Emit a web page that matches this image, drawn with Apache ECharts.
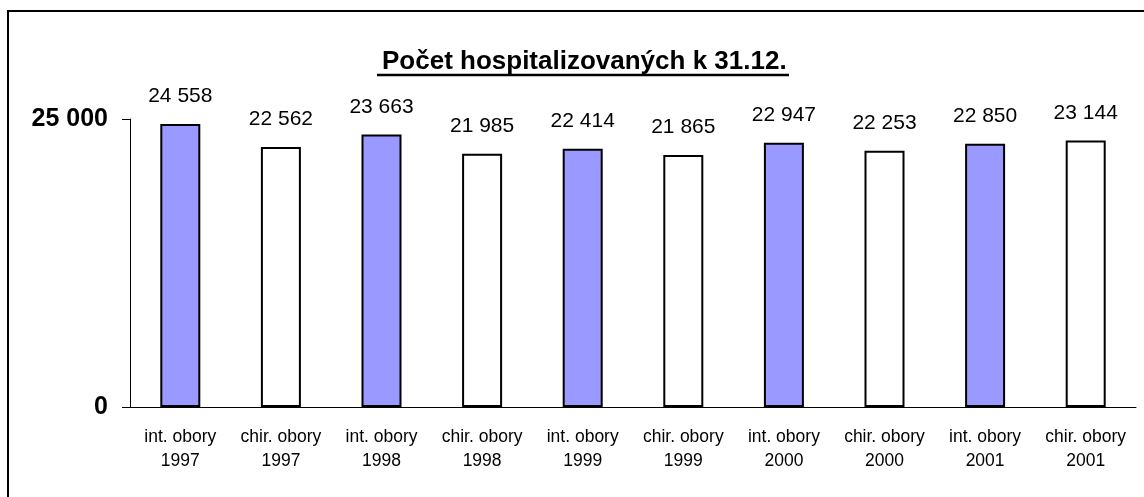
<!DOCTYPE html>
<html lang="cs">
<head>
    <meta charset="UTF-8">
    <title>Počet hospitalizovaných</title>
    <script src="https://cdn.jsdelivr.net/npm/echarts@6/dist/echarts.min.js"></script>
    <style>
        body { margin: 0; background: #fff; }
    </style>
</head>
<body>
    <div id="main" style="width: 1144px;height:497px;"></div>
    <script type="text/javascript">
        const categories = [
            'int. obory\n1997', 'chir. obory\n1997',
            'int. obory\n1998', 'chir. obory\n1998',
            'int. obory\n1999', 'chir. obory\n1999',
            'int. obory\n2000', 'chir. obory\n2000',
            'int. obory\n2001', 'chir. obory\n2001'
        ];
        const patients = [24558, 22562, 23663, 21985, 22414, 21865, 22947, 22253, 22850, 23144];

        const font = '"Liberation Sans", Arial, sans-serif';

        // thousands with a space, as in the source
        function fmt(v) {
            return String(v).replace(/\B(?=(\d{3})+(?!\d))/g, ' ');
        }

        let options = {
            animation: false,
            title: {
                text: 'Počet hospitalizovaných k 31.12.',
                left: 377,
                top: 44,
                textStyle: { fontFamily: font, fontSize: 26, fontWeight: 'bold', color: '#000' }
            },
            graphic: [
                {
                    type: 'rect',
                    shape: { x: 8, y: 11, width: 1140, height: 495 },
                    style: { fill: 'none', stroke: '#000', lineWidth: 2 },
                    silent: true
                },
                {
                    type: 'line',
                    shape: { x1: 377, y1: 75, x2: 789, y2: 75 },
                    style: { stroke: '#000', lineWidth: 2.5 },
                    silent: true
                }
            ],
            grid: { left: 130, right: 8, top: 119, bottom: 90 },
            xAxis: {
                type: 'category',
                data: categories,
                axisLine: { lineStyle: { color: '#000', width: 1 } },
                axisTick: { length: 6, lineStyle: { color: '#000' } },
                axisLabel: {
                    interval: 0,
                    margin: 18,
                    fontFamily: font,
                    fontSize: 17.5,
                    lineHeight: 24,
                    color: '#000'
                }
            },
            yAxis: {
                type: 'value',
                min: 0,
                max: 25000,
                interval: 25000,
                splitLine: { show: false },
                axisLine: { show: true, lineStyle: { color: '#000', width: 1 } },
                axisTick: { show: true, length: 8, lineStyle: { color: '#000' } },
                axisLabel: {
                    margin: 22,
                    fontFamily: font,
                    fontSize: 25,
                    fontWeight: 'bold',
                    color: '#000',
                    formatter: fmt
                }
            },
            series: [{
                name: 'hospitalizovaní',
                type: 'bar',
                data: patients,
                barWidth: 40,
                itemStyle: {
                    color: (p) => p.dataIndex % 2 === 0 ? '#9999FF' : '#FFFFFF',
                    borderColor: '#000',
                    borderWidth: 2
                },
                label: {
                    show: true,
                    position: 'top',
                    distance: 17,
                    fontFamily: font,
                    fontSize: 21,
                    color: '#000',
                    formatter: (p) => fmt(p.value)
                }
            }]
        };

        let myChart = echarts.init(document.getElementById('main'));
        myChart.setOption(options);
    </script>
</body>
</html>
